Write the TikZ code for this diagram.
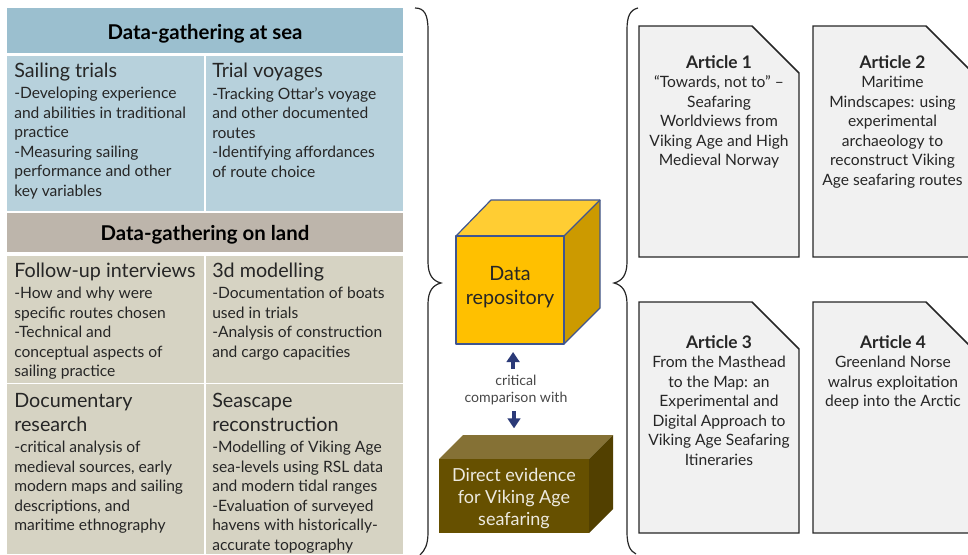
\documentclass[tikz,border=0pt]{standalone}
\usepackage{fontspec}
\setmainfont{Lato}
\usetikzlibrary{arrows.meta}
\definecolor{seahead}{HTML}{9BBFCF}
\definecolor{seacell}{HTML}{B7D1DC}
\definecolor{landhead}{HTML}{BDB5AB}
\definecolor{landcell}{HTML}{D6D3C3}
\definecolor{docfill}{HTML}{F1F1F1}
\definecolor{bodytxt}{HTML}{262626}
\definecolor{cubefront}{HTML}{FFC000}
\definecolor{cubetop}{HTML}{FFCD33}
\definecolor{cubeside}{HTML}{CC9A00}
\definecolor{cubeline}{HTML}{3F5590}
\definecolor{brownfront}{HTML}{665000}
\definecolor{browntop}{HTML}{857135}
\definecolor{brownside}{HTML}{524000}
\definecolor{arrowblue}{HTML}{2B3A78}
\newcommand{\bodyf}{\fontsize{11.7pt}{14.65pt}\selectfont}
\newcommand{\arttitle}[1]{{\fontsize{13pt}{14.65pt}\selectfont\bfseries #1}}
\tikzset{
  x=0.75pt,y=-0.75pt,
  headtxt/.style={font=\fontsize{15.3pt}{18pt}\selectfont\bfseries,text=black,inner sep=0},
  celltitle/.style={anchor=north west,inner sep=0,align=left,text=bodytxt,font=\fontsize{14.8pt}{18pt}\selectfont,execute at begin node=\strut},
  cellbody/.style={anchor=north west,inner sep=0,align=left,text=bodytxt,font=\bodyf,execute at begin node=\strut},
  doc/.style={draw=black!85,line width=1.1pt,fill=docfill},
  doctxt/.style={anchor=north,inner sep=0,align=center,text=bodytxt,font=\bodyf,execute at begin node=\strut},
  bracepath/.style={draw=black!85,line width=0.9pt},
  blockarrow/.style={draw=arrowblue,line width=2.7pt,-{Triangle[length=7.5pt,width=9.5pt]}},
  cubeface/.style={draw=cubeline,line width=0.9pt,line join=round},
}
\begin{document}
\begin{tikzpicture}
\useasboundingbox (0,0) rectangle (968,554);
\clip (0,0) rectangle (968,554);
% left panels
\fill[seahead] (7,8) rectangle (403,53);
\fill[seacell] (7,56) rectangle (204,211);
\fill[seacell] (206,56) rectangle (403,211);
\fill[landhead] (7,213) rectangle (403,252);
\fill[landcell] (7,256) rectangle (204,382.5);
\fill[landcell] (206,256) rectangle (403,382.5);
\fill[landcell] (7,384) rectangle (204,554);
\fill[landcell] (206,384) rectangle (403,554);
\node[headtxt] (h1) at (205,33.5) {Data-gathering at sea};
\node[headtxt] (h2) at (205,235) {Data-gathering on land};
% cell text
\node[celltitle] (t1) at (14,60) {Sailing trials};
\node[cellbody] (b1) at (14,87) {-Developing experience\\and abilities in traditional\\practice\\-Measuring sailing\\performance and other\\key variables};
\node[celltitle] (t2) at (212,60) {Trial voyages};
\node[cellbody] (b2) at (212,87) {-Tracking Ottar’s voyage\\and other documented\\routes\\-Identifying affordances\\of route choice};
\node[celltitle] (t3) at (14,260) {Follow-up interviews};
\node[cellbody] (b3) at (14,287) {-How and why were\\specific routes chosen\\-Technical and\\conceptual aspects of\\sailing practice};
\node[celltitle] (t4) at (212,260) {3d modelling};
\node[cellbody] (b4) at (212,287) {-Documentation of boats\\used in trials\\-Analysis of construction\\and cargo capacities};
\node[celltitle] (t5) at (14,393) {Documentary\\research};
\node[cellbody] (b5) at (14,441) {-critical analysis of\\medieval sources, early\\modern maps and sailing\\descriptions, and\\maritime ethnography};
\node[celltitle] (t6) at (212,393) {Seascape\\reconstruction};
\node[cellbody] (b6) at (212,441) {-Modelling of Viking Age\\sea-levels using RSL data\\and modern tidal ranges\\-Evaluation of surveyed\\havens with historically-\\accurate topography};
% braces
\draw[bracepath] (415,8) .. controls (424,8) and (428,14) .. (428,30) -- (428,262) .. controls (428,275) and (433,281) .. (441,283) .. controls (433,285) and (428,291) .. (428,304) -- (428,532) .. controls (428,545) and (425,550) .. (420,555);
\draw[bracepath] (638,8) .. controls (630,10) and (627,16) .. (627,30) -- (627,262) .. controls (627,275) and (622,281) .. (614,283) .. controls (622,285) and (627,291) .. (627,304) -- (627,532) .. controls (627,545) and (630,551) .. (636,554);
% data repository cube
\fill[cubetop] (456,236) -- (491,200) -- (600,200) -- (564,236) -- cycle;
\fill[cubeside] (564,236) -- (600,200) -- (600,308) -- (564,344) -- cycle;
\draw[cubeface] (456,236) -- (491,200) -- (600,200) -- (600,308) -- (564,344);
\draw[cubeface] (564,236) -- (600,200);
\node[cubeface,fill=cubefront,minimum width=81pt,minimum height=81pt,inner sep=0,outer sep=0,align=center,text=bodytxt,font=\fontsize{14.8pt}{18.5pt}\selectfont] (repo) at (510,290) {Data\\repository\rule[-7pt]{0pt}{0pt}};
% direct evidence block
\fill[browntop] (439,459) -- (463,435) -- (613,435) -- (589,459) -- cycle;
\fill[brownside] (589,459) -- (613,435) -- (613,509) -- (589,533) -- cycle;
\node[fill=brownfront,minimum width=112.5pt,minimum height=55.5pt,inner sep=0,outer sep=0,align=center,text=white!88!brownfront,font=\fontsize{13.5pt}{16.5pt}\selectfont] (evid) at (514,496) {\rule{0pt}{13.3pt}Direct evidence\\for Viking Age\\seafaring};
% comparison
\node[inner sep=0,outer sep=0,minimum height=31.5pt,align=center,text=bodytxt!85,font=\fontsize{10.6pt}{12.6pt}\selectfont] (cmp) at (516,390) {critical\\comparison with};
\draw[blockarrow,shorten >=6pt] ([xshift=-2.2pt]cmp.north) -- ([xshift=-2.2pt]cmp.north |- repo.south);
\draw[blockarrow,shorten >=5pt] ([xshift=-1.5pt]cmp.south) -- ([xshift=-1.5pt,yshift=18pt]cmp.south |- evid.north);
% articles
\draw[doc] (639,26) -- (752,26) -- (799,73) -- (799,257) -- (639,257) -- cycle;
\draw[doc] (813,26) -- (926,26) -- (973,73) -- (973,257) -- (813,257) -- cycle;
\draw[doc] (639,302) -- (752,302) -- (799,349) -- (799,533) -- (639,533) -- cycle;
\draw[doc] (813,302) -- (926,302) -- (973,349) -- (973,533) -- (813,533) -- cycle;
\node[doctxt] (a1) at (719,55) {\arttitle{Article 1}\\“Towards, not to” –\\Seafaring\\Worldviews from\\Viking Age and High\\Medieval Norway};
\node[doctxt] (a2) at (892.5,55) {\arttitle{Article 2}\\Maritime\\Mindscapes: using\\experimental\\archaeology to\\reconstruct Viking\\Age seafaring routes};
\node[doctxt] (a3) at (719,335) {\arttitle{Article 3}\\From the Masthead\\to the Map: an\\Experimental and\\Digital Approach to\\Viking Age Seafaring\\Itineraries};
\node[doctxt] (a4) at (893,335) {\arttitle{Article 4}\\Greenland Norse\\walrus exploitation\\deep into the Arctic};
\end{tikzpicture}
\end{document}
